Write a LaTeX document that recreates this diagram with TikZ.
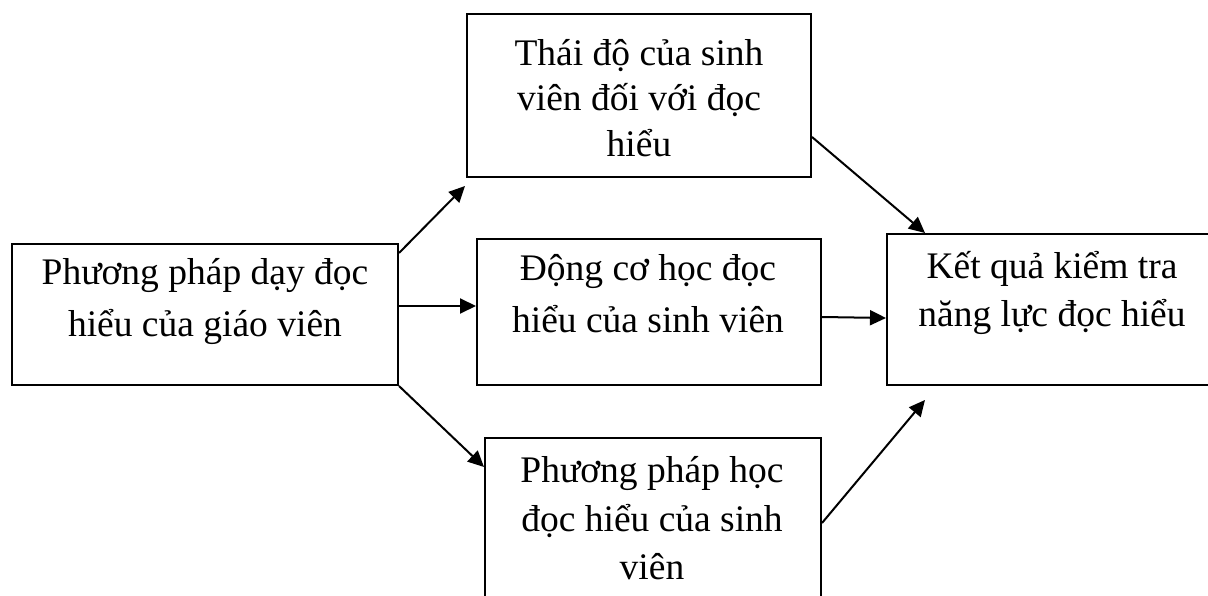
\documentclass[tikz,border=0pt]{standalone}
\usepackage{fontspec}
\setmainfont{Liberation Serif}
\usetikzlibrary{arrows.meta}

\tikzset{
  box/.style={draw=black, line width=2pt, rectangle, inner sep=0pt, anchor=north west},
  txt/.style={anchor=base, inner sep=0pt, font=\fontsize{37.5}{#1}\selectfont},
  link/.style={draw=black, line width=2pt, -{Triangle[length=16pt,width=15pt]}}
}
% multi-line label whose baseline is that of its first line
\newcommand{\boxlines}[1]{\begin{tabular}[t]{@{}c@{}}#1\end{tabular}}

\begin{document}
\begin{tikzpicture}[x=1pt,y=-1pt]
  \useasboundingbox (0,0) rectangle (1208,596);
  \clip (0,0) rectangle (1208,596);
  \fill[white] (0,0) rectangle (1208,596);

  % boxes
  \node[box, minimum width=386pt, minimum height=141pt] (L) at (11,243) {};
  \node[box, minimum width=344pt, minimum height=163pt] (T) at (466,13) {};
  \node[box, minimum width=344pt, minimum height=146pt] (M) at (476,238) {};
  \node[box, minimum width=336pt, minimum height=175pt] (B) at (484,437) {};
  \node[box, minimum width=334pt, minimum height=151pt] (R) at (886,233) {};

  % labels
  \node[txt=52pt] (Ltxt) at (205,284) {\boxlines{Phương pháp dạy đọc\\hiểu của giáo viên}};
  \node[txt=45.5pt] (Ttxt) at (639,65.5) {\boxlines{Thái độ của sinh\\viên đối với đọc\\hiểu}};
  \node[txt=52pt] (Mtxt) at (648,280) {\boxlines{Động cơ học đọc\\hiểu của sinh viên}};
  \node[txt=48.5pt] (Btxt) at (652,482.5) {\boxlines{Phương pháp học\\đọc hiểu của sinh\\viên}};
  \node[txt=48pt] (Rtxt) at (1052,279) {\boxlines{Kết quả kiểm tra\\năng lực đọc hiểu}};

  % connectors
  \draw[link] ([yshift=-10pt]L.north east) -- ([shift={(-1pt,-8pt)}]T.south west);
  \draw[link] ([yshift=8.5pt]L.east) -- ([yshift=6pt]M.west);
  \draw[link] (L.south east) -- ([yshift=-30pt]B.north west);
  \draw[link] ([yshift=41pt]T.south east) -- ([xshift=39pt]R.north west);
  \draw[link] ([yshift=-5pt]M.east) -- ([yshift=-8.5pt]R.west);
  \draw[link] ([yshift=-86pt]B.north east) -- ([shift={(39pt,-14pt)}]R.south west);
\end{tikzpicture}
\end{document}
